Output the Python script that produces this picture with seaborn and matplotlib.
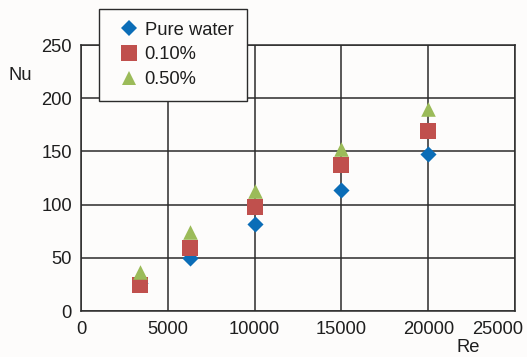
import matplotlib
matplotlib.use("Agg")
import matplotlib.pyplot as plt
import matplotlib.transforms as mtransforms
import seaborn as sns
import pandas as pd

# Reynolds number for each measurement
re_values = [3400, 6300, 10000, 15000, 20000]
# Nusselt number per fluid
nu_pure_water = [26, 50, 82, 114, 148]
nu_010 = [24, 59, 98, 137, 169]
nu_050 = [37, 74, 113, 152, 190]

series_names = ["Pure water", "0.10%", "0.50%"]
series_values = [nu_pure_water, nu_010, nu_050]
colors = ["#0B6DB7", "#C0504D", "#9BBB59"]
markers = ["D", "s", "^"]
marker_pts = [8.2, 11.3, 10.5]

x_ticks = [0, 5000, 10000, 15000, 20000, 25000]
y_ticks = [0, 50, 100, 150, 200, 250]

df = pd.concat(
    [pd.DataFrame({"Re": re_values, "Nu": vals, "fluid": name})
     for name, vals in zip(series_names, series_values)],
    ignore_index=True,
)

sns.set_style("white")
plt.rcParams["font.family"] = ["Liberation Sans", "DejaVu Sans"]
FS = 13.2
TXT = "#1E1E1E"
BG = "#FDFCFB"

fig = plt.figure(figsize=(5.27, 3.57), dpi=100, facecolor=BG)
ax = fig.add_axes([81 / 527, 1 - 311 / 357, (515 - 81) / 527, (311 - 45) / 357])
ax.set_facecolor(BG)

handles = []
for name, color, marker, ms in zip(series_names, colors, markers, marker_pts):
    sub = df[df["fluid"] == name]
    sns.scatterplot(data=sub, x="Re", y="Nu", ax=ax, color=color, marker=marker,
                    s=ms ** 2, linewidth=0, zorder=3, legend=False)
    handles.append(plt.Line2D([], [], linestyle="none", marker=marker, color=color,
                              markersize=ms, markeredgewidth=0, label=name))

ax.set_xlim(0, 25000)
ax.set_ylim(0, 250)
ax.set_xticks(x_ticks)
ax.set_yticks(y_ticks)
ax.grid(True, color="#2B2B2B", linewidth=1.1)
ax.set_axisbelow(True)
for sp in ax.spines.values():
    sp.set_color("#2B2B2B")
    sp.set_linewidth(1.1)
ax.tick_params(axis="both", length=0, labelsize=FS, colors=TXT)
ax.tick_params(axis="y", pad=6.5)
ax.tick_params(axis="x", pad=7)
ax.set_xlabel("")
ax.set_ylabel("")

# keep the last x tick label inside the figure
fig.canvas.draw()
last = ax.get_xticklabels()[-1]
last.set_horizontalalignment("right")
last.set_transform(last.get_transform() +
                   mtransforms.ScaledTranslation(8 / 100, 0, fig.dpi_scale_trans))

fig.text(8 / 527, 1 - 75 / 357, "Nu", fontsize=FS, color=TXT, va="center", ha="left")
fig.text(468 / 527, 1 - 348 / 357, "Re", fontsize=FS, color=TXT, va="center", ha="center")

leg = fig.legend(handles=handles, loc="upper left",
                 bbox_to_anchor=(98.5 / 527, 1 - 8.5 / 357),
                 frameon=True, fontsize=FS, handlelength=1.9,
                 handletextpad=-0.1, borderpad=0.72, labelspacing=0.42,
                 borderaxespad=0, fancybox=False, framealpha=1)
for t in leg.get_texts():
    t.set_color(TXT)
leg.get_frame().set_edgecolor("#2B2B2B")
leg.get_frame().set_linewidth(1.0)
leg.get_frame().set_facecolor(BG)
leg.set_zorder(10)

fig.savefig("out.png", dpi=100, facecolor=fig.get_facecolor())
